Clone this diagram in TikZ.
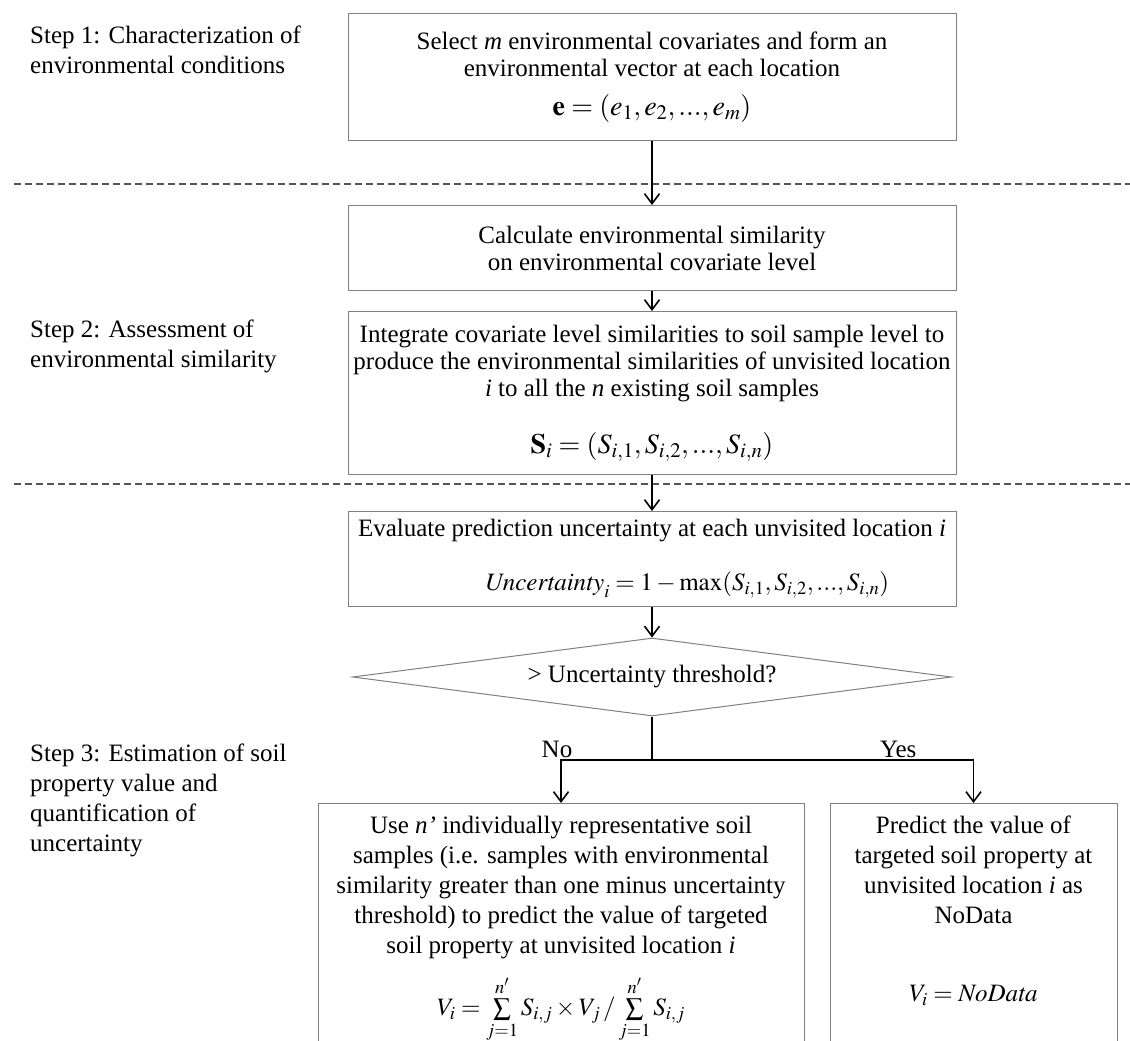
\documentclass[tikz,border=0pt]{standalone}
\usepackage{amsmath}
\usepackage{mathptmx}
\usepackage{fontspec}
\setmainfont{Liberation Serif}
\usepackage{tikz}
\usetikzlibrary{positioning}
\usetikzlibrary{arrows.meta}
\usetikzlibrary{shapes.geometric}
\usepackage{xcolor}

\definecolor{framegray}{RGB}{128,128,128}
\definecolor{dashgray}{RGB}{85,85,85}
\newcommand{\flowtextfont}{\fontsize{25}{27}\selectfont}
\newcommand{\steptextfont}{\fontsize{25}{30}\selectfont}
\newcommand{\lowtextfont}{\fontsize{25}{30}\selectfont}

\begin{document}
\begin{tikzpicture}[x=1pt, y=-1pt,
    stepbox/.style={draw=framegray, line width=1pt, minimum width=608pt, align=center, inner sep=0pt, font=\flowtextfont},
    openbox/.style={draw=framegray, line width=1pt, minimum height=300pt, inner sep=0pt},
    lowtext/.style={align=center, inner sep=0pt, font=\lowtextfont},
    steplabel/.style={anchor=north west, align=left, inner sep=0pt, font=\steptextfont},
    decision/.style={diamond, draw=framegray, line width=1pt, shape aspect=7.68, minimum width=599pt, minimum height=78pt, inner sep=0pt, font=\flowtextfont},
    flow/.style={black, line width=1.6pt},
    flowarrow/.style={flow, -{Straight Barb[length=10pt, width=15pt]}},
    splitline/.style={dashgray, line width=1.2pt, dash pattern=on 7pt off 4pt}]
    \useasboundingbox (0,0) rectangle (1130,1041);
    \clip (0,0) rectangle (1130,1041);

    % step labels on the left
    \node[steplabel] (stepone) at (30,26) {Step 1: Characterization of\\environmental conditions};
    \node[steplabel] (steptwo) at (30,320) {Step 2: Assessment of\\environmental similarity};
    \node[steplabel] (stepthree) at (30,744) {Step 3: Estimation of soil\\property value and\\quantification of\\uncertainty};

    % separators between the steps
    \draw[splitline] (14,184) -- (1130,184);
    \draw[splitline] (14,484) -- (1130,484);

    % main column
    \node[stepbox, minimum height=127pt, anchor=north] (select) at (652,13) {Select \textit{m} environmental covariates and form an\\environmental vector at each location\\[12pt] {\fontsize{28}{28}\selectfont$\mathbf{e}=(e_1,e_2,...,e_m)$}};
    \node[stepbox, minimum height=85pt, below=64pt of select] (calc) {Calculate environmental similarity\\on environmental covariate level};
    \node[stepbox, minimum height=163pt, below=20pt of calc] (integ) {Integrate covariate level similarities to soil sample level to\\produce the environmental similarities of unvisited location\\\textit{i} to all the \textit{n} existing soil samples\\[30pt] {\fontsize{28}{28}\selectfont$\mathbf{S}_i=(S_{i,1},S_{i,2},...,S_{i,n})$}};
    \node[stepbox, minimum height=95pt, below=36pt of integ] (evaluate) {Evaluate prediction uncertainty at each unvisited location \textit{i}\\[27pt] \hspace*{70pt}$\mathit{Uncertainty}_i=1-\max(S_{i,1},S_{i,2},...,S_{i,n})$};
    \node[decision] (decide) at (652,677) {> Uncertainty threshold?};

    % branches
    \coordinate (split) at (652,760);
    \node[openbox, minimum width=486pt, anchor=north] (usebox) at (561,803) {};
    \node[openbox, minimum width=287pt, anchor=north] (nodata) at (973.5,803) {};
    \node[lowtext, below=13pt of usebox.north] (usetext) {Use \textit{n’} individually representative soil\\samples (i.e. samples with environmental\\similarity greater than one minus uncertainty\\threshold) to predict the value of targeted\\soil property at unvisited location \textit{i}\\[16pt] $\textstyle V_i=\sum\limits_{j=1}^{n'}S_{i,j}\times V_j\,/\sum\limits_{j=1}^{n'}S_{i,j}$};
    \node[lowtext, below=13pt of nodata.north] (nodatatext) {Predict the value of\\targeted soil property at\\unvisited location \textit{i} as\\NoData\\[48pt] $V_i=\mathit{NoData}$};

    % connectors
    \draw[flowarrow] (select) -- (calc);
    \draw[flowarrow] (calc) -- (integ);
    \draw[flowarrow] (integ) -- (evaluate);
    \draw[flowarrow] (evaluate) -- (decide);
    \draw[flow] (decide.south) -- (split);
    \draw[flowarrow] (split) -| node[pos=0.5, above, inner sep=1pt, xshift=-4pt, font=\flowtextfont] {No} (usebox.north);
    \draw[flowarrow] (split) -| node[pos=0.383, above, inner sep=1pt, font=\flowtextfont] {Yes} (nodata.north);
\end{tikzpicture}
\end{document}
